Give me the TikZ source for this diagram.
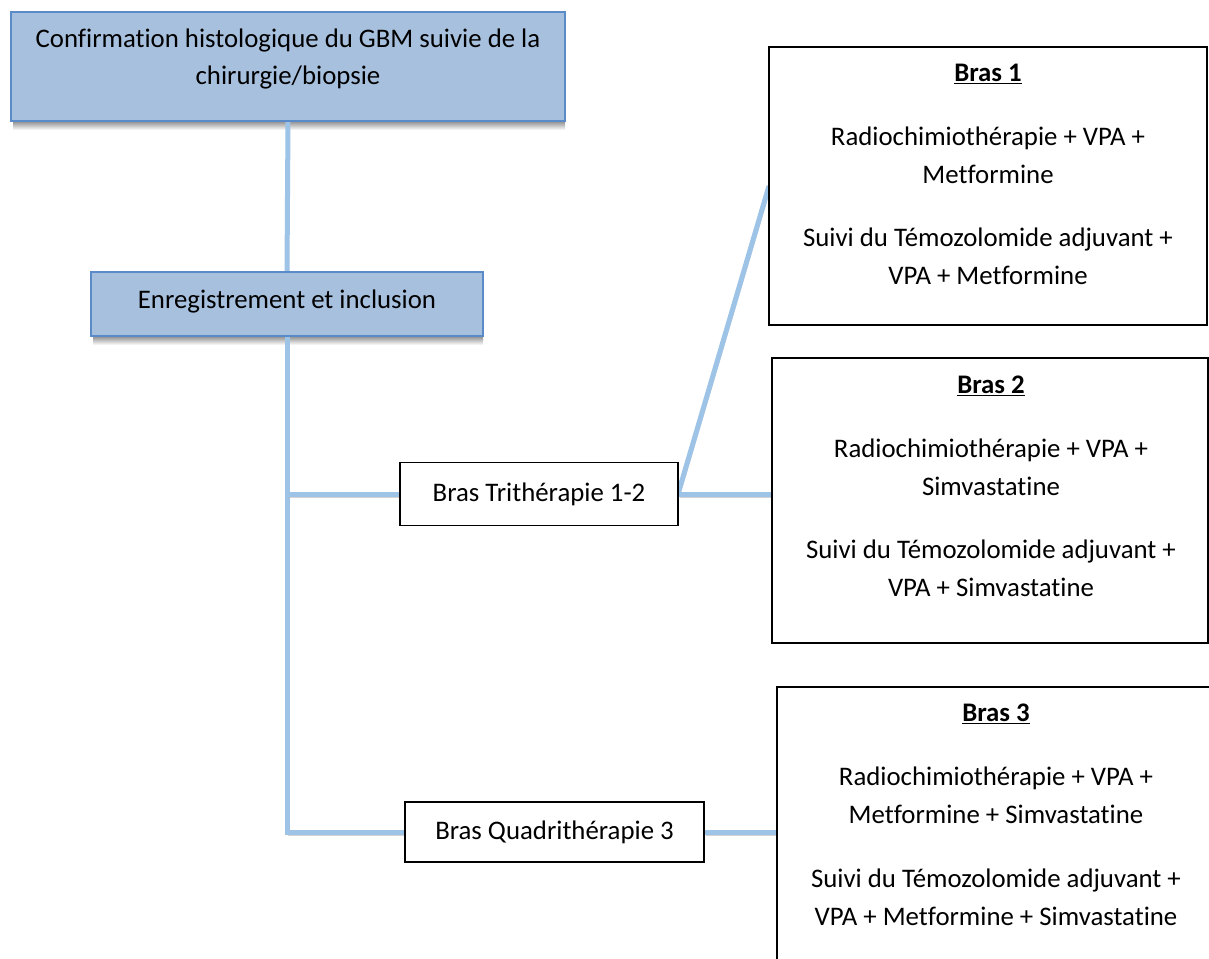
\documentclass[tikz,border=0pt]{standalone}
\usepackage{fontspec}
\setmainfont{Carlito}[Ligatures=NoCommon]
\definecolor{boxfill}{HTML}{A7C0DE}
\definecolor{boxedge}{HTML}{5A8BC8}
\definecolor{linecol}{HTML}{9DC3E6}
\begin{document}
\begin{tikzpicture}[x=1pt,y=-1pt,
  every node/.style={font=\fontsize{26.8}{38}\selectfont, inner sep=0pt, outer sep=0pt},
  bluebox/.style={draw=boxedge, fill=boxfill, line width=1.8pt},
  whitebox/.style={draw=black, fill=white, line width=1.5pt},
  txt/.style={align=center, text=black},
  connector/.style={draw=linecol, line width=5pt,
    preaction={draw=black!35, opacity=0.5, transform canvas={xshift=1.5pt, yshift=-3pt}}}
]
\useasboundingbox (0,0) rectangle (1209,958);
\clip (0,0) rectangle (1209,958);
\fill[white] (0,0) rectangle (1209,958);

% placement nodes
\node[minimum width=554pt, minimum height=109pt] (box1) at (288,66.5) {};
\node[minimum width=392pt, minimum height=64pt] (box2) at (287,304) {};
\node[minimum width=278pt, minimum height=63pt] (tri) at (539,494) {};
\node[minimum width=299pt, minimum height=60pt] (quadri) at (554.5,832) {};
\node[minimum width=438pt, minimum height=278pt] (bras1) at (988,186) {};
\node[minimum width=436pt, minimum height=285pt] (bras2) at (990,500.5) {};
\node[minimum width=438pt, minimum height=346pt] (bras3) at (996,860) {};

% shadows of blue boxes
\shade[top color=black!45, bottom color=white] ([xshift=2pt]box1.south west) rectangle ([yshift=-9pt]box1.south east);
\shade[top color=black!45, bottom color=white] ([xshift=2pt]box2.south west) rectangle ([yshift=-9pt]box2.south east);

% connectors
\draw[connector] (box1.south) -- (box2.north);
\draw[connector] (box2.south) |- (quadri.west);
\draw[connector] (tri.west -| box2.south) -- (tri.west);
\draw[connector] (tri.east) -- (bras1.west);
\draw[connector] (tri.east) -- (bras2.west |- tri.east);
\draw[connector] (quadri.east) -- (bras3.west |- quadri.east);

% boxes
\node[bluebox, minimum width=554pt, minimum height=109pt] (b1) at (box1) {};
\node[bluebox, minimum width=392pt, minimum height=64pt] (b2) at (box2) {};
\node[whitebox, minimum width=278pt, minimum height=63pt, txt] (tb) at (tri) {Bras Trithérapie 1-2};
\node[whitebox, minimum width=299pt, minimum height=60pt, txt] (qb) at (quadri) {Bras Quadrithérapie 3};
\node[whitebox, minimum width=438pt, minimum height=278pt] (br1) at (bras1) {};
\node[whitebox, minimum width=436pt, minimum height=285pt] (br2) at (bras2) {};
\node[whitebox, minimum width=438pt, minimum height=346pt] (br3) at (bras3) {};

% texts
\node[txt, font=\fontsize{26.8}{37}\selectfont] (t1) at (288,58.5) {Confirmation histologique du GBM suivie de la\\chirurgie/biopsie};
\node[txt] (t2) at (287,301) {Enregistrement et inclusion};
\node[txt] (t3) at (988,174.5) {\textbf{\underline{Bras 1}}\\[26pt]Radiochimiothérapie + VPA +\\Metformine\\[25pt]Suivi du Témozolomide adjuvant +\\VPA + Metformine};
\node[txt] (t4) at (991,486) {\textbf{\underline{Bras 2}}\\[26pt]Radiochimiothérapie + VPA +\\Simvastatine\\[25pt]Suivi du Témozolomide adjuvant +\\VPA + Simvastatine};
\node[txt] (t5) at (996,814.5) {\textbf{\underline{Bras 3}}\\[26pt]Radiochimiothérapie + VPA +\\Metformine + Simvastatine\\[26pt]Suivi du Témozolomide adjuvant +\\VPA + Metformine + Simvastatine};
\end{tikzpicture}
\end{document}
